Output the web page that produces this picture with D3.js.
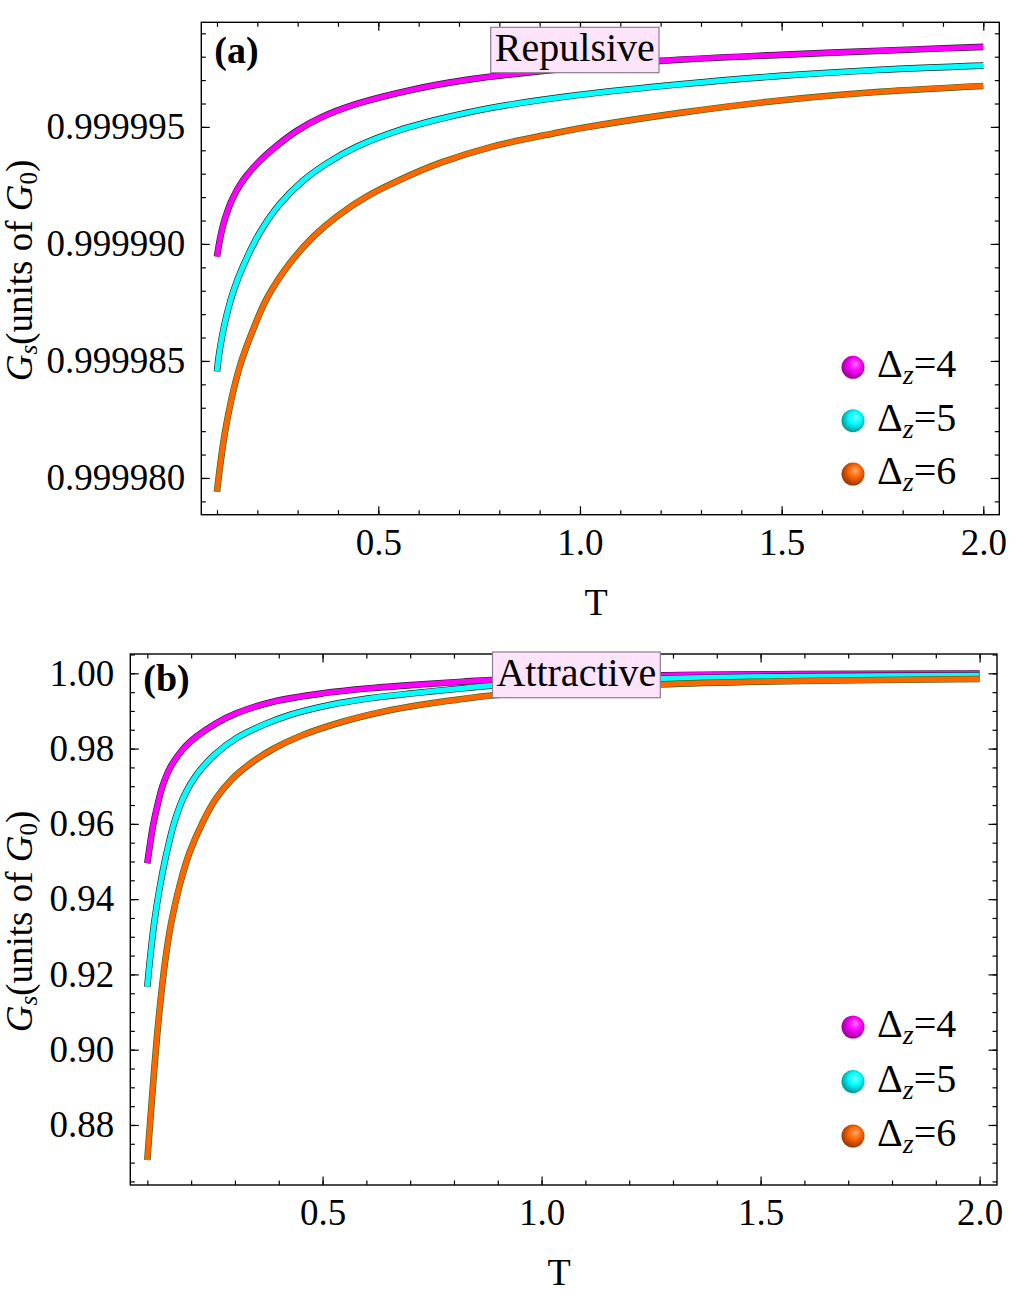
<!DOCTYPE html>
<html>
<head>
<meta charset="utf-8">
<script src="https://cdn.jsdelivr.net/npm/d3@7"></script>
<style>
  body { margin: 0; background: #fff; }
  svg { display: block; }
  text { font-family: "Liberation Serif", "Times New Roman", serif; fill: #000; }
</style>
</head>
<body>
<svg width="1023" height="1296"></svg>
<script>
// ---- data ----
// panel (a): repulsive
var tRepMag = [0.100,0.108,0.116,0.128,0.140,0.157,0.174,0.202,0.248,0.298,0.355,0.446,0.587,0.719,0.884,1.198,1.496,1.827,2.000];
var gRepMag = [0.99998946,0.99999026,0.99999086,0.99999150,0.99999199,0.99999252,0.99999293,0.99999348,0.99999419,0.99999483,0.99999538,0.99999598,0.99999660,0.99999701,0.99999735,0.99999782,0.99999808,0.99999831,0.99999842];
var tRepCyan = [0.100,0.106,0.120,0.140,0.165,0.207,0.256,0.314,0.372,0.446,0.554,0.670,0.785,1.000,1.248,1.496,1.744,2.000];
var gRepCyan = [0.99998454,0.99998538,0.99998667,0.99998795,0.99998906,0.99999051,0.99999171,0.99999271,0.99999344,0.99999415,0.99999487,0.99999541,0.99999583,0.99999637,0.99999682,0.99999718,0.99999744,0.99999762];
var tRepOr = [0.100,0.109,0.120,0.136,0.157,0.186,0.223,0.281,0.339,0.397,0.471,0.554,0.653,0.785,0.934,1.000,1.248,1.496,1.744,2.000];
var gRepOr = [0.99997941,0.99998068,0.99998197,0.99998338,0.99998479,0.99998618,0.99998765,0.99998918,0.99999031,0.99999117,0.99999202,0.99999274,0.99999346,0.99999417,0.99999472,0.99999494,0.99999560,0.99999613,0.99999650,0.99999675];

// panel (b): attractive
var tAttMag = [0.100,0.107,0.114,0.126,0.135,0.152,0.181,0.212,0.257,0.303,0.387,0.501,0.607,0.729,0.820,0.885,1.269,1.590,2.000];
var gAttMag = [0.94952,0.95526,0.96015,0.96634,0.97014,0.97492,0.97981,0.98316,0.98672,0.98937,0.99245,0.99469,0.99601,0.99708,0.99777,0.99822,0.99947,0.99981,0.99995];
var tAttCyan = [0.100,0.107,0.116,0.128,0.143,0.162,0.185,0.212,0.253,0.303,0.364,0.425,0.516,0.607,0.706,0.820,0.885,1.269,1.590,2.000];
var gAttCyan = [0.91674,0.92516,0.93401,0.94288,0.95173,0.96057,0.96767,0.97298,0.97829,0.98273,0.98626,0.98892,0.99158,0.99336,0.99469,0.99601,0.99671,0.99857,0.99920,0.99942];
var tAttOr = [0.100,0.107,0.111,0.116,0.123,0.132,0.142,0.155,0.174,0.196,0.227,0.257,0.295,0.341,0.387,0.455,0.546,0.638,0.721,0.820,0.885,1.269,1.590,2.000];
var gAttOr = [0.87070,0.88159,0.88770,0.89514,0.90470,0.91506,0.92463,0.93401,0.94376,0.95226,0.96057,0.96679,0.97210,0.97651,0.97989,0.98361,0.98714,0.98980,0.99158,0.99317,0.99410,0.99702,0.99795,0.99849];

var legendLabels = ["4", "5", "6"];
var xMajorTicks = [0.5, 1.0, 1.5, 2.0];
var yMajorRep = [0.999980, 0.999985, 0.999990, 0.999995];
var yMajorAtt = [0.88, 0.90, 0.92, 0.94, 0.96, 0.98, 1.00];

var colors = ["#ff00ff", "#00ffff", "#ff6600"];
var edges = ["#202020", "#202020", "#2f6a1c"];
var sphereDark = ["#8a008a", "#008a8a", "#8a3000"];

let svg = d3.select("svg");

// sphere gradients for the legend
let defs = svg.append("defs");
colors.forEach(function(c, i) {
  let gr = defs.append("radialGradient").attr("id", "sph" + i)
      .attr("cx", "0.55").attr("cy", "0.45").attr("r", "0.6")
      .attr("fx", "0.62").attr("fy", "0.32");
  gr.append("stop").attr("offset", "0%").attr("stop-color", d3.interpolateRgb(c, "#fff")(0.45));
  gr.append("stop").attr("offset", "45%").attr("stop-color", c);
  gr.append("stop").attr("offset", "100%").attr("stop-color", sphereDark[i]);
});

function zip(ts, gs) { return ts.map(function(t, i) { return {t: t, g: gs[i]}; }); }

function drawPanel(p) {
  let x = d3.scaleLinear().domain([0.0611, 2.0397]).range([p.left, p.right]);
  let y = d3.scaleLinear().domain(p.yDomain).range([p.bottom, p.top]);
  let g = svg.append("g");

  let clip = "clip" + p.tag;
  defs.append("clipPath").attr("id", clip).append("rect")
      .attr("x", p.left).attr("y", p.top)
      .attr("width", p.right - p.left).attr("height", p.bottom - p.top);

  // curves: dark edge underneath, colour on top
  let line = d3.line().x(function(d) { return x(d.t); }).y(function(d) { return y(d.g); })
      .curve(d3.curveCatmullRom.alpha(0.5));
  let curves = g.append("g").attr("clip-path", "url(#" + clip + ")");
  p.series.forEach(function(s, i) {
    curves.append("path").datum(s).attr("d", line)
        .attr("fill", "none").attr("stroke", edges[i]).attr("stroke-width", 6.6);
    curves.append("path").datum(s).attr("d", line)
        .attr("fill", "none").attr("stroke", colors[i]).attr("stroke-width", 5.3);
  });

  // ticks, pointing inward on all four sides
  let xMinor = d3.range(1, 21).map(function(d) { return d / 10; });
  let bottom = g.append("g").attr("transform", "translate(0," + p.bottom + ")");
  bottom.call(d3.axisBottom(x).tickValues(xMinor).tickSize(-4.5).tickFormat(""));
  bottom.append("g").call(d3.axisBottom(x).tickValues(xMajorTicks).tickSize(-8.5)
      .tickPadding(14).tickFormat(d3.format(".1f")));
  let topAx = g.append("g").attr("transform", "translate(0," + p.top + ")");
  topAx.call(d3.axisTop(x).tickValues(xMinor).tickSize(-4.5).tickFormat(""));
  topAx.append("g").call(d3.axisTop(x).tickValues(xMajorTicks).tickSize(-8.5).tickFormat(""));

  let left = g.append("g").attr("transform", "translate(" + p.left + ",0)");
  left.call(d3.axisLeft(y).tickValues(p.yMinor).tickSize(-4.5).tickFormat(""));
  left.append("g").call(d3.axisLeft(y).tickValues(p.yMajor).tickSize(-8.5)
      .tickPadding(16).tickFormat(d3.format(p.yFormat)));
  let right = g.append("g").attr("transform", "translate(" + p.right + ",0)");
  right.call(d3.axisRight(y).tickValues(p.yMinor).tickSize(-4.5).tickFormat(""));
  right.append("g").call(d3.axisRight(y).tickValues(p.yMajor).tickSize(-8.5).tickFormat(""));

  g.selectAll(".domain").remove();
  g.selectAll(".tick line").attr("stroke", "#000").attr("stroke-width", 1.2);
  g.selectAll(".tick text").attr("font-size", 37).attr("font-family", "Liberation Serif, serif")
      .attr("fill", "#000");

  g.append("rect").attr("x", p.left).attr("y", p.top)
      .attr("width", p.right - p.left).attr("height", p.bottom - p.top)
      .attr("fill", "none").attr("stroke", "#000").attr("stroke-width", 1.4);

  // axis titles
  g.append("text").attr("x", x(1.04)).attr("y", p.bottom + 100)
      .attr("text-anchor", "middle").attr("font-size", 38).text("T");

  let yl = g.append("text")
      .attr("transform", "translate(32," + ((p.top + p.bottom) / 2 + 2) + ") rotate(-90)")
      .attr("text-anchor", "middle").attr("font-size", 37);
  yl.append("tspan").attr("font-style", "italic").text("G");
  yl.append("tspan").attr("font-style", "italic").attr("font-size", 25).attr("dy", 5).text("s");
  yl.append("tspan").attr("dy", -5).text("(units of ");
  yl.append("tspan").attr("font-style", "italic").text("G");
  yl.append("tspan").attr("font-size", 25).attr("dy", 5).text("0");
  yl.append("tspan").attr("dy", -5).text(")");

  // panel tag
  g.append("text").attr("x", p.left + 13).attr("y", p.tagY)
      .attr("font-size", 38).attr("font-weight", "bold").text("(" + p.tag + ")");

  // title box
  let tb = g.append("g");
  tb.append("rect").attr("x", p.boxX).attr("y", p.boxY).attr("width", p.boxW).attr("height", p.boxH)
      .attr("fill", "#fde4fb").attr("stroke", "#8d7d8f").attr("stroke-width", 1.2);
  tb.append("text").attr("x", p.boxX + p.boxW / 2).attr("y", p.boxY + p.boxH - 12)
      .attr("text-anchor", "middle").attr("font-size", 40).text(p.title);

  // legend
  legendLabels.forEach(function(lab, i) {
    let cy = p.legY + i * p.legStep;
    g.append("circle").attr("cx", 853).attr("cy", cy).attr("r", 11.5)
        .attr("fill", "url(#sph" + i + ")");
    let t = g.append("text").attr("x", 877).attr("y", cy + 10).attr("font-size", 40);
    t.append("tspan").text("\u0394");
    t.append("tspan").attr("font-style", "italic").attr("font-size", 28).attr("dy", 7).text("z");
    t.append("tspan").attr("dy", -7).text("=" + lab);
  });
}

drawPanel({
  tag: "a", left: 201.3, right: 999.3, top: 22.3, bottom: 514.7,
  yDomain: [0.99997843, 0.99999947],
  yMajor: yMajorRep,
  yMinor: d3.range(0, 21).map(function(d) { return 0.999979 + d * 0.000001; }),
  yFormat: ".6f",
  series: [zip(tRepMag, gRepMag), zip(tRepCyan, gRepCyan), zip(tRepOr, gRepOr)],
  tagY: 63, title: "Repulsive", boxX: 490.7, boxY: 27.3, boxW: 168.3, boxH: 45.4,
  legY: 367.3, legStep: 53.4
});

drawPanel({
  tag: "b", left: 130.3, right: 997, top: 654, bottom: 1185,
  yDomain: [0.86405, 1.00513],
  yMajor: yMajorAtt,
  yMinor: d3.range(0, 29).map(function(d) { return 0.865 + d * 0.005; }),
  yFormat: ".2f",
  series: [zip(tAttMag, gAttMag), zip(tAttCyan, gAttCyan), zip(tAttOr, gAttOr)],
  tagY: 691, title: "Attractive", boxX: 492.5, boxY: 652, boxW: 167.8, boxH: 45.7,
  legY: 1027, legStep: 54.5
});
</script>
</body>
</html>
